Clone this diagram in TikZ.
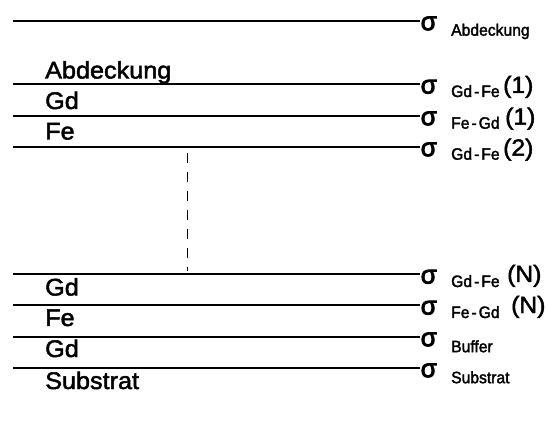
\documentclass[tikz,border=0pt]{standalone}
\usepackage{fontspec}
\setmainfont[FakeStretch=1.05,FakeBold=2]{Liberation Sans}
\newfontfamily\subfont[FakeStretch=0.95,FakeBold=2]{Liberation Sans}
\newfontfamily\sigfont[FakeBold=3]{Liberation Sans}
\begin{document}
\begin{tikzpicture}[x=1pt,y=-1pt,
  layer/.style={line width=1.8pt},
  lbl/.style={anchor=base west,inner sep=0pt,font=\fontsize{24}{26}\selectfont},
  sig/.style={anchor=base west,inner sep=0pt,font=\sigfont\fontsize{26}{28}\selectfont},
  sub/.style={anchor=base west,inner sep=0pt,font=\subfont\fontsize{16.5}{18}\selectfont},
  num/.style={anchor=base west,inner sep=0pt,font=\fontsize{23.5}{24}\selectfont},
  sep/.style={line width=0.9pt,dash pattern=on 10pt off 9pt}]
\useasboundingbox[fill=white] (0,0) rectangle (547,425);
% interface lines
\foreach \n/\y in {1/20.7,2/84,3/115.7,4/146.7,5/274,6/305,7/336.7,8/367.7}{
  \coordinate (a\n) at (13,\y);
  \coordinate (b\n) at (420,\y);
  \draw[layer] (a\n) -- (b\n);
  \node[sig] (s\n) at (420.5,\y+9.5) {σ};
}
% dashed separator
\coordinate (d1) at (187,152.7);
\coordinate (d2) at (187,271);
\draw[sep] (d1) -- (d2);
% layer names
\node[lbl] (n1) at (45,78.5) {Abdeckung};
\node[lbl] (n2) at (45,109) {Gd};
\node[lbl] (n3) at (45,139.5) {Fe};
\node[lbl] (n4) at (45,295.5) {Gd};
\node[lbl] (n5) at (45,326) {Fe};
\node[lbl] (n6) at (45,357) {Gd};
\node[lbl] (n7) at (45,389) {Substrat};
% subscripts
\node[sub] (t1) at (451,20.7+15) {Abdeckung};
\node[sub] (t2) at (451,84+13) {Gd\hspace{2pt}-\hspace{2pt}Fe};
\node[sub] (t3) at (451,115.7+13) {Fe\hspace{2pt}-\hspace{2pt}Gd};
\node[sub] (t4) at (451,146.7+13) {Gd\hspace{2pt}-\hspace{2pt}Fe};
\node[sub] (t5) at (451,274+13) {Gd\hspace{2pt}-\hspace{2pt}Fe};
\node[sub] (t6) at (451,305+13) {Fe\hspace{2pt}-\hspace{2pt}Gd};
\node[sub] (t7) at (451,336.7+15.5) {Buffer};
\node[sub] (t8) at (451,367.7+15.5) {Substrat};
% indices
\node[num] (m2) at (503,84+9) {(1)};
\node[num] (m3) at (505,115.7+9) {(1)};
\node[num] (m4) at (503,146.7+9) {(2)};
\node[num] (m5) at (507,274+8) {(N)};
\node[num] (m6) at (511,305+8) {(N)};
\end{tikzpicture}
\end{document}
